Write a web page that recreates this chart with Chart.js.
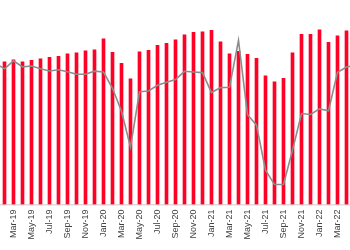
<!DOCTYPE html>
<html>
<head>
<meta charset="utf-8">
<script src="https://cdn.jsdelivr.net/npm/chart.js@4/dist/chart.umd.min.js"></script>
<style>
  html, body { margin: 0; padding: 0; background: #fff; overflow: hidden; }
  #wrap { position: absolute; left: -9px; top: 0; width: 369px; height: 250px; }
</style>
</head>
<body>
<div id="wrap"><canvas id="mixChart"></canvas></div>
<script>
// months, Jan-19 and May-22 sit just outside the visible area
var months = [
  'Jan-19', 'Feb-19', 'Mar-19', 'Apr-19', 'May-19', 'Jun-19', 'Jul-19', 'Aug-19', 'Sep-19', 'Oct-19', 'Nov-19', 'Dec-19',
  'Jan-20', 'Feb-20', 'Mar-20', 'Apr-20', 'May-20', 'Jun-20', 'Jul-20', 'Aug-20', 'Sep-20', 'Oct-20', 'Nov-20', 'Dec-20',
  'Jan-21', 'Feb-21', 'Mar-21', 'Apr-21', 'May-21', 'Jun-21', 'Jul-21', 'Aug-21', 'Sep-21', 'Oct-21', 'Nov-21', 'Dec-21',
  'Jan-22', 'Feb-22', 'Mar-22', 'Apr-22', 'May-22'
];

var barValues = [
  null, 143, 145, 143, 144.5, 146, 147.5, 148.5, 151, 152, 154, 155,
  166, 152.5, 141.5, 126, 153, 154.5, 159.5, 161.5, 165, 170, 172.5, 173,
  174.5, 163, 151, 153.5, 150.5, 146.5, 129, 123, 126.5, 152, 170.5, 170.5,
  175, 162.5, 169, 174, null
];

var lineValues = [
  141.5, 136, 144, 138, 138.8, 136, 133.8, 135, 133, 130.5, 130.5, 133.7,
  132.8, 116.5, 93.5, 57.5, 113, 113.8, 119.5, 122.5, 125.3, 133.5, 132.8, 132.2,
  112.2, 117.2, 117.5, 164.5, 90, 79.5, 34.5, 20, 20, 54.5, 91.2, 90.2,
  95.8, 94, 132.5, 137.8, 139.5
];

var yMax = 205;

function renderChart() {
  var ctx = document.getElementById('mixChart').getContext('2d');
  var config = {
    type: 'bar',
    data: {
      labels: months,
      datasets: [{
        type: 'line',
        data: lineValues,
        borderColor: '#8c8c8c',
        borderWidth: 1.6,
        pointRadius: 0,
        tension: 0,
        fill: false,
        order: 0
      }, {
        type: 'bar',
        data: barValues,
        backgroundColor: '#ff0027',
        barThickness: 3,
        order: 1
      }]
    },
    options: {
      responsive: true,
      maintainAspectRatio: false,
      animation: false,
      layout: { padding: 0 },
      plugins: {
        legend: { display: false },
        tooltip: { enabled: false }
      },
      scales: {
        x: {
          grid: { display: false, drawTicks: false },
          border: { display: true, color: '#dcdcdc', width: 1.5 },
          ticks: {
            autoSkip: false,
            maxRotation: 90,
            minRotation: 90,
            padding: 5,
            color: '#404040',
            font: { family: "'Liberation Sans', Arial, sans-serif", size: 9 },
            callback: function(val, i) {
              return i % 2 === 0 ? months[i] : '';
            }
          },
          afterFit: function(scale) {
            scale.paddingLeft = 0;
            scale.paddingRight = 0;
            scale.height = 45.5;
          }
        },
        y: {
          display: false,
          min: 0,
          max: yMax
        }
      }
    }
  };
  var myChart = new Chart(ctx, config);
}

renderChart();
</script>
</body>
</html>
